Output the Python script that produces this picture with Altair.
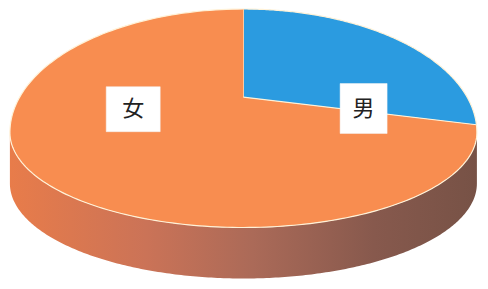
import altair as alt
import numpy as np
import pandas as pd

# ---- data ----
categories = ["男", "女"]
values = [24, 76]
colors = ["#2B9BE0", "#F88D50"]

# ---- shape of the tilted disc (layout constants, page pixels) ----
CX, RX = 243.4, 233.5          # horizontal centre / half width of the top face
CY, RU, RL = 132.5, 123.5, 95.0  # widest row, upper and lower half heights
AY = 97.2                      # where the slice edges meet
T = 51.0                       # thickness of the rim


def rim(theta, drop=0.0):
    X, Y = np.sin(theta), np.cos(theta)
    r = RU if Y > 0 else RL
    return CX + RX * X, CY - r * Y + drop


total = float(sum(values))

slice_rows = []
start = 0.0
for cat, v in zip(categories, values):
    th0 = 2 * np.pi * start / total
    th1 = 2 * np.pi * (start + v) / total
    ths = np.linspace(th0, th1, 200)
    slice_rows.append(dict(part=cat, i=0, x=CX, y=AY))
    for i, t in enumerate(ths, start=1):
        sx, sy = rim(t)
        slice_rows.append(dict(part=cat, i=i, x=sx, y=sy))
    start += v
slices = pd.DataFrame(slice_rows)

# visible side wall: front half of the rim pushed down
ths = np.linspace(np.pi / 2, 3 * np.pi / 2, 240)
wall_rows = []
i = 0
for t in ths:
    sx, sy = rim(t)
    wall_rows.append(dict(i=i, x=sx, y=sy)); i += 1
for t in ths[::-1]:
    sx, sy = rim(t, T)
    wall_rows.append(dict(i=i, x=sx, y=sy)); i += 1
wall = pd.DataFrame(wall_rows)

# label boxes: anchor offsets from the meeting point, box sizes (style)
label_offset = {"男": (120.2, 11.3), "女": (-110.2, 12.0)}
box_size = {"男": (47, 50), "女": (54, 45)}
lab_rows = []
for cat in categories:
    dx, dy = label_offset[cat]
    sx, sy = CX + dx, AY + dy
    w, h = box_size[cat]
    lab_rows.append(dict(part=cat, x=sx, y=sy, x1=sx - w / 2, x2=sx + w / 2,
                         y1=sy - h / 2, y2=sy + h / 2))
labels = pd.DataFrame(lab_rows)

xs = alt.Scale(domain=[8, 480], zero=False, nice=False)
ys = alt.Scale(domain=[8, 281], zero=False, nice=False, reverse=True)

X = alt.X("x:Q", scale=xs, axis=None)
Y = alt.Y("y:Q", scale=ys, axis=None)

grad = alt.Gradient(
    gradient="linear",
    stops=[
        alt.GradientStop(color="#E87C4A", offset=0),
        alt.GradientStop(color="#CB7357", offset=0.29),
        alt.GradientStop(color="#AB6A58", offset=0.52),
        alt.GradientStop(color="#87594D", offset=0.78),
        alt.GradientStop(color="#775246", offset=1),
    ],
    x1=0, x2=1, y1=0, y2=0,
)

wall_layer = alt.Chart(wall).mark_line(
    fill=grad, strokeOpacity=0, interpolate="linear"
).encode(x=X, y=Y, order=alt.Order("i:Q"))

layers = [wall_layer]
for cat, col in zip(categories, colors):
    layers.append(
        alt.Chart(slices).transform_filter(alt.datum.part == cat).mark_line(
            fill=col, stroke="#FFF2D8", strokeWidth=1.2, strokeJoin="round",
            interpolate="linear"
        ).encode(x=X, y=Y, order=alt.Order("i:Q"))
    )

boxes = alt.Chart(labels).mark_rect(fill="white", stroke="#F2F2F2", strokeWidth=0.5).encode(
    x=alt.X("x1:Q", scale=xs, axis=None), x2="x2:Q",
    y=alt.Y("y1:Q", scale=ys, axis=None), y2="y2:Q",
)
texts = alt.Chart(labels).mark_text(
    font="Noto Sans CJK JP", fontSize=22, color="#222222", baseline="middle", align="center"
).encode(x=X, y=Y, text="part:N")

chart = alt.layer(*layers, boxes, texts).properties(
    width=472, height=273, padding=0,
    autosize=alt.AutoSizeParams(type="fit", contains="padding"),
    background="white",
).configure_view(strokeWidth=0)

chart.save("out.html", embed_options={"renderer": "svg", "actions": False})
